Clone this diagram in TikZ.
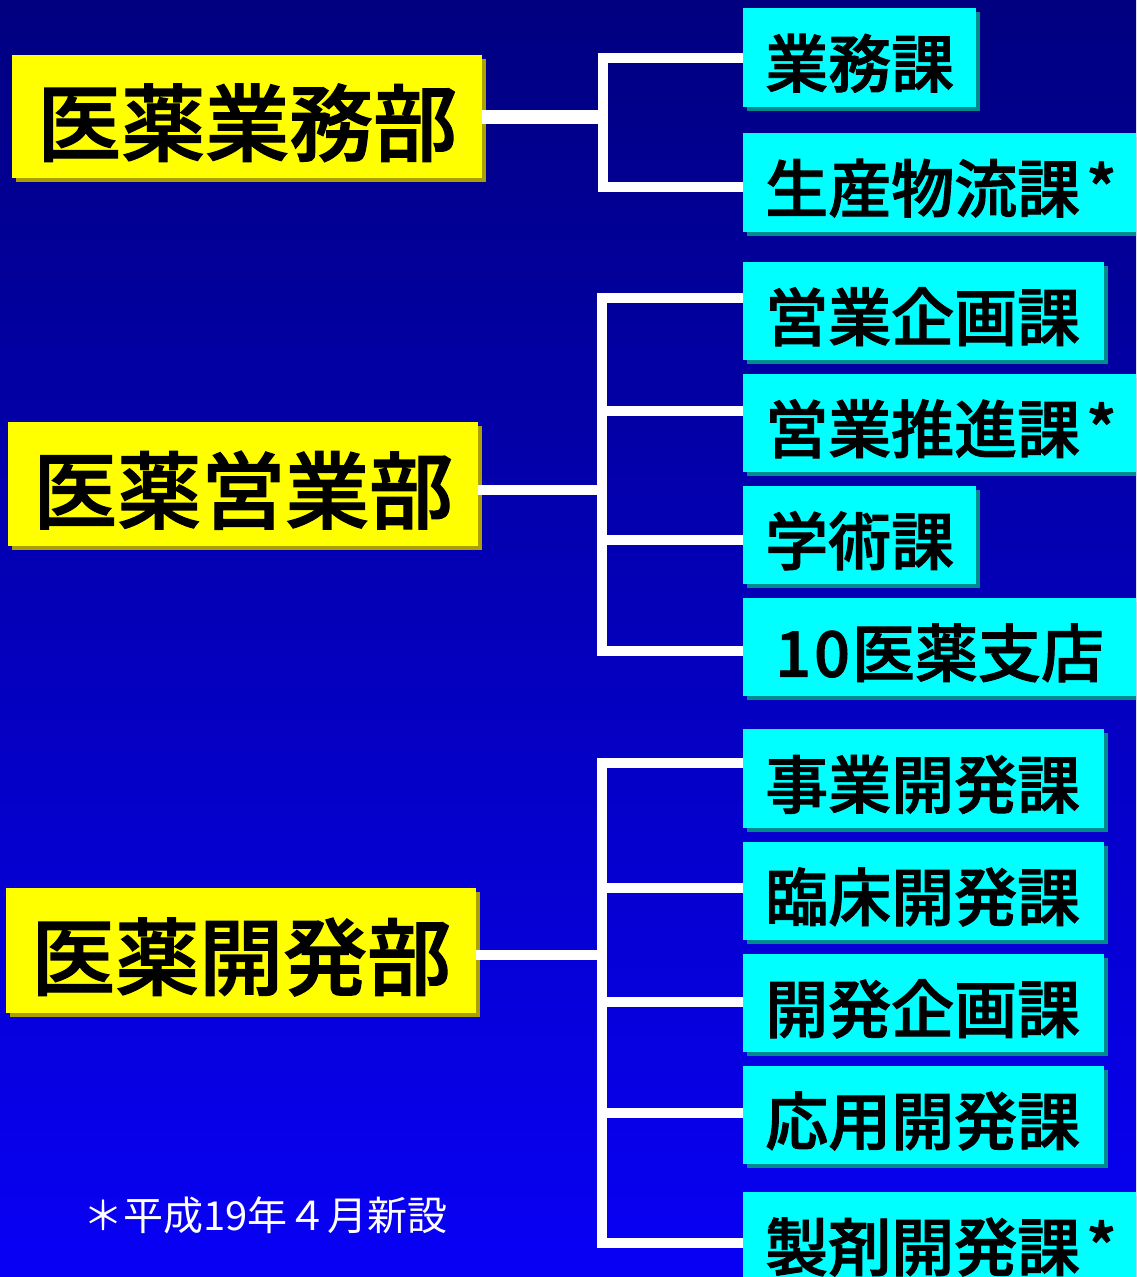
\documentclass[tikz,border=0pt]{standalone}
\usepackage{fontspec}
\newfontfamily\jp{Noto Sans CJK JP}[BoldFont={Noto Sans CJK JP Medium}, BoldFeatures={FakeBold=1.5}]
\usetikzlibrary{shadows,calc}
\definecolor{bgtop}{RGB}{0,0,128}
\definecolor{bgbot}{RGB}{8,0,245}
\definecolor{deptfill}{RGB}{255,255,0}
\definecolor{deptshadow}{RGB}{170,160,0}
\definecolor{secfill}{RGB}{0,255,255}
\definecolor{secshadow}{RGB}{0,140,140}
\begin{document}
\begin{tikzpicture}[x=1pt,y=-1pt,
  dept/.style={anchor=north west, fill=deptfill, inner xsep=25pt, inner ysep=0pt, align=left,
    text width=420pt, text height=80pt, text depth=4pt,
    font=\jp\bfseries\fontsize{84}{84}\selectfont,
    drop shadow={shadow xshift=4pt,shadow yshift=-4pt,fill=deptshadow,opacity=1}},
  sec/.style={anchor=north west, fill=secfill, inner xsep=22pt, inner ysep=0pt, align=left,
    text height=61pt, text depth=2pt,
    font=\jp\bfseries\fontsize{63}{63}\selectfont,
    drop shadow={shadow xshift=4pt,shadow yshift=-4pt,fill=secshadow,opacity=1}},
  conn/.style={draw=white, line width=10pt, line join=miter, line cap=butt},
  note/.style={anchor=west, inner sep=0pt, text=white, font=\jp\fontsize{40}{40}\selectfont}]
\clip (0,0) rectangle (1136,1277);
\useasboundingbox (0,0) rectangle (1136,1277);
\shade[top color=bgtop, bottom color=bgbot] (0,0) rectangle (1136,1277);

% departments
\node[dept, minimum height=123pt] (d1) at (12,55) {医薬業務部};
\node[dept, minimum height=124pt] (d2) at (8,422) {医薬営業部};
\node[dept, minimum height=125pt] (d3) at (6,888) {医薬開発部};

% sections
\node[sec, text width=189pt, minimum height=99pt] (s1) at (743,8) {業務課};
\node[sec, text width=356pt, minimum height=99pt] (s2) at (743,133) {生産物流課\hspace{6pt}*};
\node[sec, text width=317pt, minimum height=98pt] (s3) at (743,262) {営業企画課};
\node[sec, text width=356pt, minimum height=98pt] (s4) at (743,374) {営業推進課\hspace{6pt}*};
\node[sec, text width=189pt, minimum height=98pt] (s5) at (743,486) {学術課};
\node[sec, text width=356pt, minimum height=98pt] (s6) at (743,598) {\hspace*{10pt}1\hspace{3pt}0\hspace{2pt}医薬支店};
\node[sec, text width=317pt, minimum height=99pt] (s7) at (743,729) {事業開発課};
\node[sec, text width=317pt, minimum height=98pt] (s8) at (743,842) {臨床開発課};
\node[sec, text width=317pt, minimum height=98pt] (s9) at (743,954) {開発企画課};
\node[sec, text width=317pt, minimum height=98pt] (s10) at (743,1066) {応用開発課};
\node[sec, text width=356pt, minimum height=98pt] (s11) at (743,1192) {製剤開発課\hspace{6pt}*};

% group 1
\coordinate (b1t) at (603,58);
\coordinate (b1b) at (603,187);
\draw[conn] (b1t -| s1.west) -- (b1t) -- (b1b) -- (b1b -| s2.west);
\draw[conn, line width=14pt] (d1.east) -- (d1.east -| b1t);

% group 2
\coordinate (b2a) at (602,298);
\coordinate (b2b) at (602,411);
\coordinate (b2c) at (602,540);
\coordinate (b2d) at (602,651);
\coordinate (h2) at (602,490);
\draw[conn] (b2a -| s3.west) -- (b2a) -- (b2d) -- (b2d -| s6.west);
\draw[conn] (b2b) -- (b2b -| s4.west);
\draw[conn] (b2c) -- (b2c -| s5.west);
\draw[conn] (h2 -| d2.east) -- (h2);

% group 3
\coordinate (b3a) at (602,763);
\coordinate (b3b) at (602,888);
\coordinate (b3c) at (602,1002);
\coordinate (b3d) at (602,1113);
\coordinate (b3e) at (602,1243);
\coordinate (h3) at (602,955);
\draw[conn] (b3a -| s7.west) -- (b3a) -- (b3e) -- (b3e -| s11.west);
\draw[conn] (b3b) -- (b3b -| s8.west);
\draw[conn] (b3c) -- (b3c -| s9.west);
\draw[conn] (b3d) -- (b3d -| s10.west);
\draw[conn] (h3 -| d3.east) -- (h3);

% footnote
\node[note] (fn) at (83,1215) {＊平成19年４月新設};
\end{tikzpicture}
\end{document}
